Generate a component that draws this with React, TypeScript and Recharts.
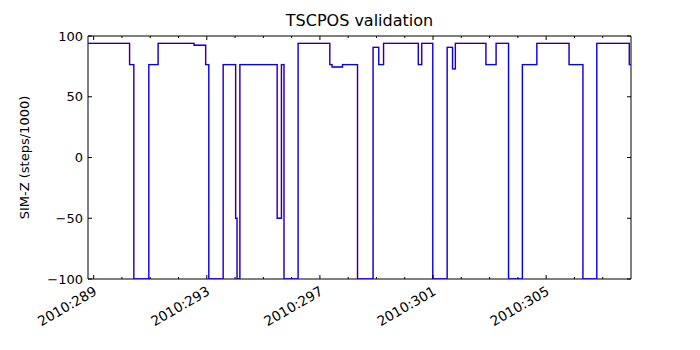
import React from 'react';
import { LineChart, Line, XAxis, YAxis, ReferenceArea } from 'recharts';

// day of year (2010) where the commanded SIM-Z position changes, and the new value
const changeDays = [
  288.8, 290.27, 290.42, 290.95, 291.28, 292.55, 292.96, 293.07, 293.58, 294.02,
  294.07, 294.17, 295.49, 295.64, 295.73, 296.23, 297.35, 297.43, 297.8, 298.33,
  298.88, 299.08, 299.25, 300.48, 300.6, 300.99, 301.5, 301.69, 301.79, 302.87,
  303.23, 303.67, 304.16, 304.67, 305.81, 306.3, 306.79, 307.94, 308.0,
];
const simZ = [
  94, 76.5, -100, 76.5, 94, 92.4, 76.5, -100, 76.5, -50,
  -100, 76.5, -50, 76.5, -100, 94, 76.5, 74.5, 76.5, -100,
  90.7, 76.5, 94, 76.5, 94, -100, 90.7, 72.9, 94, 76.5,
  94, -100, 76.5, 94, 76.5, -100, 94, 76.5, 76.5,
];
// the telemetry trace follows the commanded one
const simZTlm = simZ;

const dayTicks = [289, 290, 291, 292, 293, 294, 295, 296, 297, 298, 299, 300, 301, 302, 303, 304, 305, 306, 307];
const labelledDays = [289, 293, 297, 301, 305];
const yTicks = [-100, -50, 0, 50, 100];

const data = changeDays.map((t, i) => ({ t, cmd: simZ[i], tlm: simZTlm[i] }));

const PLOT_TOP = 36;
const PLOT_LEFT = 88;
const PLOT_RIGHT = 631;
const PLOT_BOTTOM = 279;
const FONT = 'DejaVu Sans, sans-serif';

const XTick = (props: any) => {
  const { x, payload } = props;
  const major = labelledDays.includes(payload.value);
  const len = major ? 4 : 2;
  return (
    <g>
      <line x1={x} x2={x} y1={PLOT_BOTTOM} y2={PLOT_BOTTOM - len} stroke="#000" />
      <line x1={x} x2={x} y1={PLOT_TOP} y2={PLOT_TOP + len} stroke="#000" />
      {major && (
        <text
          x={x + 4}
          y={PLOT_BOTTOM + 15}
          textAnchor="end"
          fontSize={13.6}
          fontFamily={FONT}
          fill="#000"
          transform={`rotate(-30, ${x + 4}, ${PLOT_BOTTOM + 15})`}
        >
          {`2010:${payload.value}`}
        </text>
      )}
    </g>
  );
};

const YTick = (props: any) => {
  const { y, payload } = props;
  const label = payload.value < 0 ? `\u2212${Math.abs(payload.value)}` : `${payload.value}`;
  return (
    <g>
      <line x1={PLOT_LEFT} x2={PLOT_LEFT + 4} y1={y} y2={y} stroke="#000" />
      <line x1={PLOT_RIGHT} x2={PLOT_RIGHT - 4} y1={y} y2={y} stroke="#000" />
      <text x={PLOT_LEFT - 5} y={y + 4.5} textAnchor="end" fontSize={13} fontFamily={FONT} fill="#000">
        {label}
      </text>
    </g>
  );
};

export default function App() {
  return (
    <div style={{ position: 'relative', width: 700, height: 350, background: '#fff' }}>
      <style>{'body{margin:0}'}</style>
      <LineChart
        width={700}
        height={350}
        data={data}
        margin={{ top: PLOT_TOP, right: 700 - PLOT_RIGHT, left: 0, bottom: 0 }}
      >
        <XAxis
          dataKey="t"
          type="number"
          domain={[288.8, 308.0]}
          ticks={dayTicks}
          interval={0}
          tick={<XTick />}
          tickLine={false}
          axisLine={false}
          tickSize={0}
          tickMargin={0}
          height={350 - PLOT_BOTTOM}
          allowDataOverflow
        />
        <YAxis
          type="number"
          domain={[-100, 100]}
          ticks={yTicks}
          interval={0}
          tick={<YTick />}
          tickLine={false}
          axisLine={false}
          tickSize={0}
          tickMargin={0}
          width={PLOT_LEFT}
          allowDataOverflow
          label={{
            value: 'SIM-Z (steps/1000)',
            angle: -90,
            position: 'insideLeft',
            offset: 24,
            style: { fontSize: 13, fontFamily: FONT, fill: '#000', textAnchor: 'middle' },
          }}
        />
        <Line
          type="stepAfter"
          dataKey="tlm"
          stroke="#ff0000"
          strokeWidth={1.6}
          strokeOpacity={0.35}
          dot={false}
          isAnimationActive={false}
        />
        <Line
          type="stepAfter"
          dataKey="cmd"
          stroke="#0000ff"
          strokeWidth={1.3}
          dot={false}
          isAnimationActive={false}
        />
        <ReferenceArea
          x1={288.8}
          x2={308.0}
          y1={-100}
          y2={100}
          fill="none"
          stroke="#000"
          strokeWidth={1}
          ifOverflow="visible"
        />
      </LineChart>
      <div
        style={{
          position: 'absolute',
          top: 12,
          left: PLOT_LEFT,
          width: PLOT_RIGHT - PLOT_LEFT,
          textAlign: 'center',
          fontFamily: FONT,
          fontSize: 16,
          lineHeight: '18px',
        }}
      >
        TSCPOS validation
      </div>
    </div>
  );
}
